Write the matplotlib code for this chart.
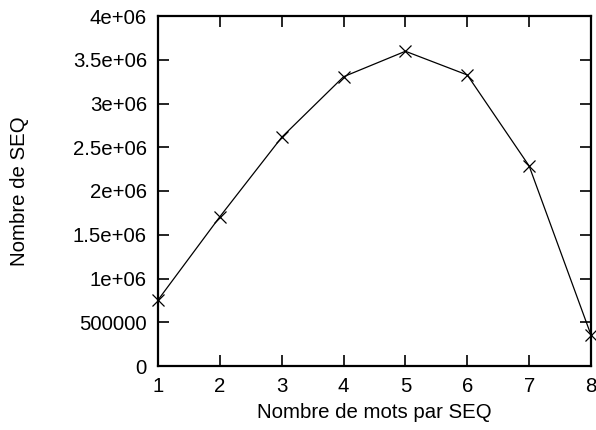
import matplotlib
matplotlib.use("Agg")
import matplotlib.pyplot as plt

# words per SEQ vs number of SEQ
mots = [1, 2, 3, 4, 5, 6, 7, 8]
nb_seq = [754000, 1706000, 2614000, 3306000, 3597000, 3326000, 2286000, 354000]

yticks = [0, 500000, 1000000, 1500000, 2000000, 2500000, 3000000, 3500000, 4000000]
ytick_labels = ["0", "500000", "1e+06", "1.5e+06", "2e+06", "2.5e+06",
                "3e+06", "3.5e+06", "4e+06"]

plt.rcParams["font.family"] = ["Liberation Sans", "DejaVu Sans"]
plt.rcParams["font.size"] = 14.7

fig = plt.figure(figsize=(5.96, 4.30), dpi=100)
ax = fig.add_axes([158 / 596, 64 / 430, 433 / 596, 350 / 430])

ax.plot(mots, nb_seq, color="black", lw=0.9, marker="x", ms=9,
        mew=0.9, clip_on=False)

ax.set_xlim(1, 8)
ax.set_ylim(0, 4000000)
ax.set_xticks(mots)
ax.set_yticks(yticks)
ax.set_yticklabels(ytick_labels)

ax.tick_params(direction="in", length=8, width=1.2, top=True, right=True,
               pad=8)
for sp in ax.spines.values():
    sp.set_linewidth(1.6)

ax.set_xlabel("Nombre de mots par SEQ", labelpad=5)
ax.set_ylabel("Nombre de SEQ")
ax.yaxis.set_label_coords(-129 / 433, 0.5)

fig.savefig("out.png", dpi=100)
